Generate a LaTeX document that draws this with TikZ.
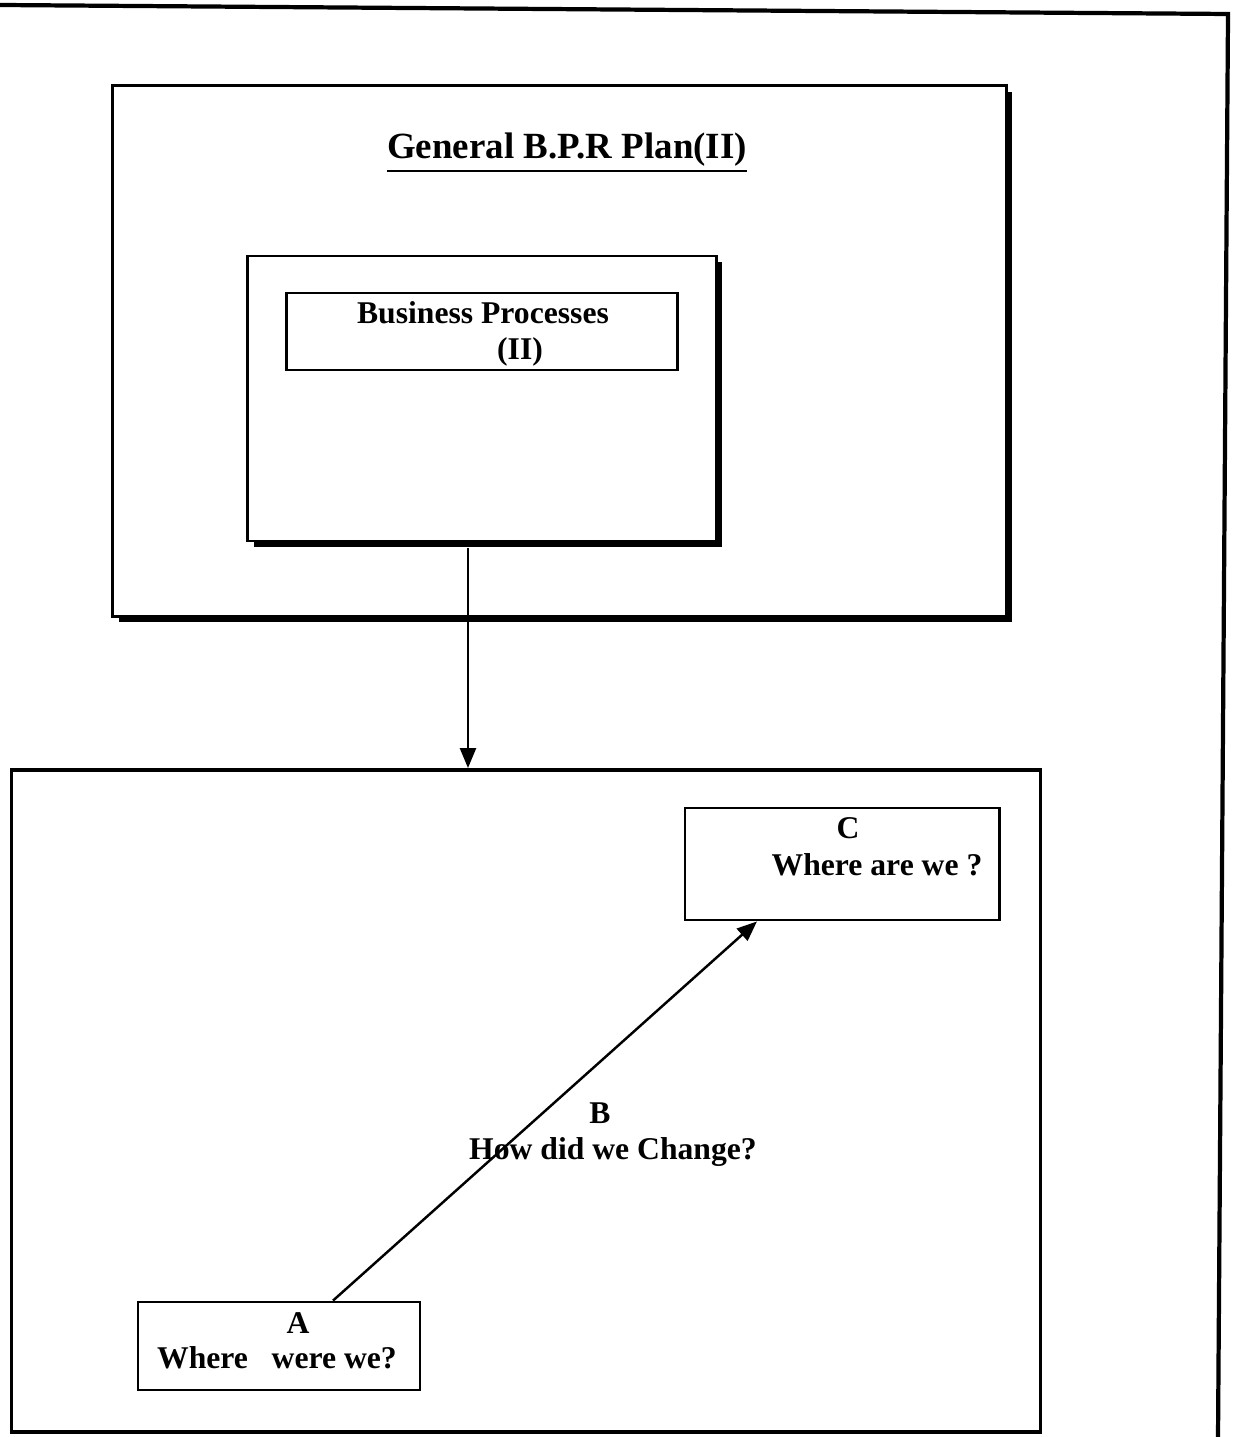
\documentclass[tikz,border=0pt]{standalone}
\usepackage{fontspec}
\setmainfont{Liberation Serif}
\usepackage{tikz}
\usetikzlibrary{arrows, arrows.meta, shadows, positioning}
\tikzstyle{box} = [rectangle, draw=black, line width=0.8pt, fill=white, inner sep=0pt]
\tikzstyle{shadowBox} = [box, drop shadow={shadow xshift=0.06cm, shadow yshift=-0.06cm, fill=black, opacity=1}]
\tikzstyle{lbl} = [font=\bfseries\fontsize{9}{11}\selectfont, inner sep=0pt]
\tikzstyle{arrow} = [line width=0.7pt,-{Triangle[length=0.2cm,width=0.16cm]}]
\tikzstyle{frame} = [line width=1.2pt]

\begin{document}
\begin{tikzpicture}[x=0.01cm, y=-0.01cm]
\useasboundingbox (0,0) rectangle (1234,1437);
% page frame
\coordinate (tl) at (0,5);
\coordinate (tr) at (1228,14);
\coordinate (br) at (1218,1437);
\draw [frame] (tl) -- (tr) -- (br);
% upper part
\node (plan) [shadowBox, minimum width=8.93cm, minimum height=5.30cm] at (559.5,351) {};
\node (plantitle) [lbl, font=\bfseries\fontsize{10.5}{12}\selectfont] at (567,153) {\underline{General B.P.R Plan(II)}};
\node (bp) [shadowBox, minimum width=4.68cm, minimum height=2.85cm] at (482,398.5) {};
\node (bptitle) [box, minimum width=3.90cm, minimum height=0.77cm] at (482,331.5) {};
\node (bp1) [lbl] at (483,313) {Business Processes};
\node (bp2) [lbl] at (520,352) {(II)};
% lower part
\node (change) [box, line width=1pt, minimum width=10.28cm, minimum height=6.62cm] at (526,1101) {};
\node (c) [box, minimum width=3.14cm, minimum height=1.12cm] at (842,864) {};
\node (ckey) [lbl] at (848,828) {C};
\node (ctext) [lbl] at (877,865) {Where are we ?};
\node (a) [box, minimum width=2.82cm, minimum height=0.88cm] at (279,1346) {};
\node (akey) [lbl] at (298,1323) {A};
\node (atext) [lbl] at (277,1358) {Where\ \ \ were we?};
\node (bkey) [lbl] at (600,1113) {B};
\node (btext) [lbl] at (613,1152) {How did we Change?};
% connectors
\draw [arrow] ([xshift=-0.14cm, yshift=-0.06cm]bp.south) -- ([xshift=-0.14cm]bp.south |- change.north);
\draw [arrow] ([xshift=0.54cm]a.north) -- ([xshift=-0.85cm]c.south);
\end{tikzpicture}
\end{document}
